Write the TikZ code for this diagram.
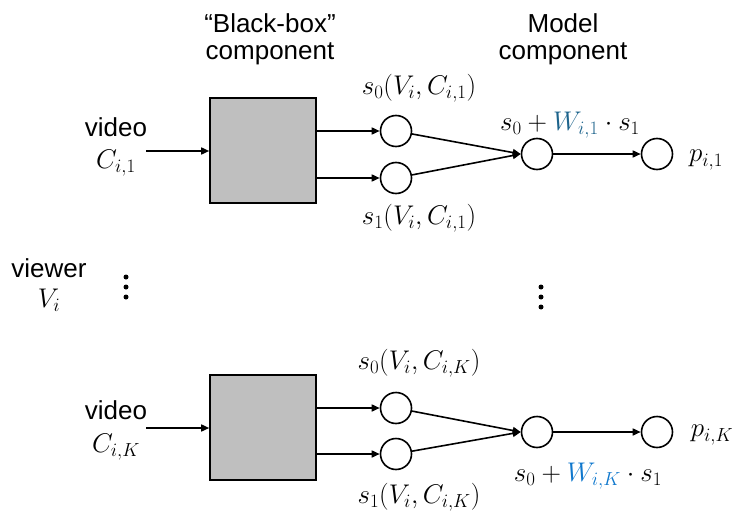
\RequirePackage{fix-cm}
\documentclass[tikz,border=0pt]{standalone}
\usepackage{fontspec}
\setmainfont{Liberation Sans}
\usetikzlibrary{arrows.meta}
\definecolor{boxgray}{RGB}{191,191,191}
\definecolor{wtop}{RGB}{30,100,140}
\definecolor{wbot}{RGB}{16,120,205}
\tikzset{
  lbl/.style={font=\fontsize{26}{27}\selectfont, inner sep=0pt},
  hdr/.style={lbl, align=center},
  mlbl/.style={font=\fontsize{27}{30}\selectfont, inner sep=0pt},
  unit/.style={circle, draw, line width=1.6pt, minimum size=31pt, inner sep=0pt},
  bbox/.style={draw, line width=1.6pt, fill=boxgray, minimum width=106pt, minimum height=105pt, inner sep=0pt},
  link/.style={line width=1.6pt, -{Triangle[length=8pt,width=7pt]}},
  vdot/.style={circle, fill, minimum size=5pt, inner sep=0pt},
}
\begin{document}
\begin{tikzpicture}[x=1pt,y=-1pt]
\useasboundingbox (0,0) rectangle (733,516);

% column headers
\node[hdr] (h1) at (270,39) {“Black-box”\\component};
\node[hdr] (h2) at (563,39) {Model\\component};

% viewer
\node[lbl] (viewer) at (49,268) {viewer};
\node[mlbl] (vi) at (49,300) {$V_i$};

% first video
\node[lbl] (vid1) at (116,127) {video};
\node[mlbl] (c1) at (116,163) {$C_{i,1}$};
\coordinate (in1) at (146,151);
\node[bbox] (box1) at (263,150.5) {};
\node[unit] (s01) at (396,131) {};
\node[unit] (s11) at (396,178) {};
\node[unit] (m1) at (537,154) {};
\node[unit] (o1) at (657,154) {};
\node[mlbl] (s01l) at (419,88) {$s_0(V_i,C_{i,1})$};
\node[mlbl] (s11l) at (419,218) {$s_1(V_i,C_{i,1})$};
\node[mlbl] (m1l) at (570,125) {$s_0+{\color{wtop}W_{i,1}}\cdot s_1$};
\node[mlbl] (p1) at (706,160) {$p_{i,1}$};

\draw[link] (in1) -- (in1 -| box1.west);
\draw[link] (box1.east |- s01) -- (s01);
\draw[link] (box1.east |- s11) -- (s11);
\draw[link] (s01) -- (m1.west);
\draw[link] (s11) -- (m1.west);
\draw[link] (m1) -- (o1);

% ellipses
\node[vdot] (dl1) at (126,277) {};
\node[vdot] (dl2) at (126,287) {};
\node[vdot] (dl3) at (126,297) {};
\node[vdot] (dr1) at (541,287) {};
\node[vdot] (dr2) at (541,297) {};
\node[vdot] (dr3) at (541,307) {};

% K-th video
\node[lbl] (vidK) at (116,410) {video};
\node[mlbl] (cK) at (116,447) {$C_{i,K}$};
\coordinate (inK) at (146,428);
\node[bbox] (boxK) at (263,427.5) {};
\node[unit] (s0K) at (396,408) {};
\node[unit] (s1K) at (396,454) {};
\node[unit] (mK) at (537,432) {};
\node[unit] (oK) at (657,432) {};
\node[mlbl] (s0Kl) at (419,363) {$s_0(V_i,C_{i,K})$};
\node[mlbl] (s1Kl) at (419,497) {$s_1(V_i,C_{i,K})$};
\node[mlbl] (mKl) at (588,476) {$s_0+{\color{wbot}W_{i,K}}\cdot s_1$};
\node[mlbl] (pK) at (712,435) {$p_{i,K}$};

\draw[link] (inK) -- (inK -| boxK.west);
\draw[link] (boxK.east |- s0K) -- (s0K);
\draw[link] (boxK.east |- s1K) -- (s1K);
\draw[link] (s0K) -- (mK.west);
\draw[link] (s1K) -- (mK.west);
\draw[link] (mK) -- (oK);
\end{tikzpicture}
\end{document}
